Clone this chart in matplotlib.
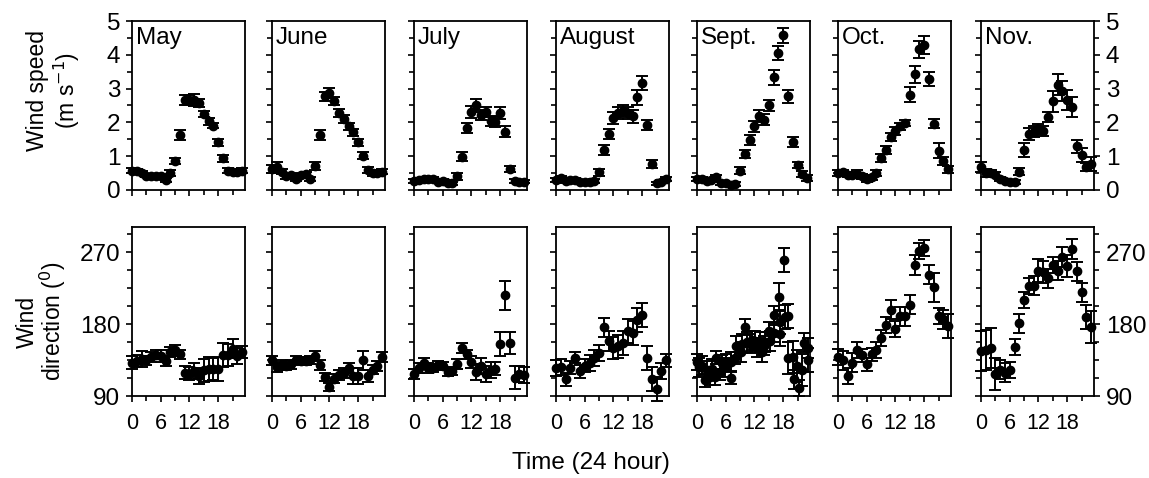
import numpy as np
import matplotlib.pyplot as plt
from matplotlib.ticker import MultipleLocator

plt.rcParams['font.family'] = ['Liberation Sans', 'DejaVu Sans']

months = ['May', 'June', 'July', 'August', 'Sept.', 'Oct.', 'Nov.']
hours = np.arange(24)

# hourly mean wind speed (m/s) and standard error
speed_may = [0.57, 0.55, 0.50, 0.42, 0.42, 0.42, 0.42, 0.30, 0.50, 0.86, 1.63, 2.67,
             2.67, 2.67, 2.57, 2.25, 2.03, 1.90, 1.41, 0.94, 0.57, 0.54, 0.54, 0.57]
speed_jun = [0.61, 0.67, 0.54, 0.40, 0.43, 0.33, 0.45, 0.46, 0.33, 0.72, 1.63, 2.77,
             2.87, 2.62, 2.28, 2.11, 1.88, 1.71, 1.41, 1.02, 0.59, 0.50, 0.50, 0.54]
speed_jul = [0.27, 0.30, 0.33, 0.33, 0.33, 0.25, 0.27, 0.20, 0.20, 0.40, 0.99, 1.83,
             2.31, 2.50, 2.23, 2.31, 2.03, 2.00, 2.28, 1.73, 0.62, 0.27, 0.25, 0.25]
speed_aug = [0.30, 0.35, 0.27, 0.30, 0.30, 0.23, 0.23, 0.23, 0.27, 0.52, 1.19, 1.65,
             2.13, 2.28, 2.33, 2.28, 2.18, 2.74, 3.17, 1.93, 0.77, 0.20, 0.25, 0.33]
speed_sep = [0.32, 0.32, 0.27, 0.30, 0.37, 0.20, 0.20, 0.15, 0.18, 0.57, 1.07, 1.49,
             1.88, 2.18, 2.08, 2.50, 3.34, 4.06, 4.58, 2.77, 1.41, 0.74, 0.47, 0.35]
speed_oct = [0.50, 0.52, 0.45, 0.45, 0.48, 0.40, 0.33, 0.37, 0.50, 0.94, 1.19, 1.58,
             1.75, 1.88, 1.98, 2.82, 3.42, 4.16, 4.29, 3.29, 1.96, 1.16, 0.87, 0.61]
speed_nov = [0.69, 0.50, 0.50, 0.45, 0.33, 0.27, 0.25, 0.25, 0.54, 1.19, 1.65, 1.73,
             1.80, 1.75, 2.15, 2.62, 3.12, 2.92, 2.67, 2.45, 1.29, 1.04, 0.69, 0.77]

speed_may_se = [0.08, 0.06, 0.06, 0.05, 0.05, 0.05, 0.05, 0.06, 0.08, 0.10, 0.15, 0.15,
                0.15, 0.18, 0.12, 0.10, 0.10, 0.08, 0.10, 0.10, 0.08, 0.08, 0.08, 0.08]
speed_jun_se = [0.12, 0.15, 0.08, 0.06, 0.05, 0.05, 0.06, 0.06, 0.06, 0.12, 0.14, 0.14,
                0.16, 0.12, 0.12, 0.12, 0.10, 0.10, 0.10, 0.10, 0.10, 0.08, 0.08, 0.08]
speed_jul_se = [0.06, 0.06, 0.06, 0.06, 0.06, 0.05, 0.05, 0.05, 0.05, 0.10, 0.12, 0.15,
                0.18, 0.18, 0.15, 0.15, 0.15, 0.15, 0.18, 0.15, 0.08, 0.05, 0.05, 0.05]
speed_aug_se = [0.06, 0.06, 0.05, 0.05, 0.05, 0.05, 0.05, 0.05, 0.05, 0.10, 0.14, 0.15,
                0.18, 0.18, 0.18, 0.18, 0.20, 0.22, 0.20, 0.15, 0.12, 0.05, 0.05, 0.05]
speed_sep_se = [0.06, 0.06, 0.05, 0.05, 0.06, 0.05, 0.05, 0.05, 0.05, 0.10, 0.12, 0.15,
                0.17, 0.18, 0.17, 0.17, 0.22, 0.20, 0.22, 0.20, 0.15, 0.10, 0.08, 0.08]
speed_oct_se = [0.08, 0.08, 0.08, 0.08, 0.12, 0.08, 0.08, 0.08, 0.08, 0.12, 0.12, 0.12,
                0.12, 0.10, 0.10, 0.22, 0.26, 0.26, 0.28, 0.20, 0.14, 0.22, 0.12, 0.10]
speed_nov_se = [0.15, 0.12, 0.10, 0.08, 0.06, 0.06, 0.06, 0.06, 0.10, 0.20, 0.18, 0.15,
                0.15, 0.15, 0.15, 0.30, 0.30, 0.30, 0.30, 0.30, 0.20, 0.20, 0.12, 0.20]

# hourly mean wind direction (degrees) and standard error
dir_may = [131.7, 133.8, 136.7, 134.6, 138.8, 141.7, 140.0, 133.8, 145.0, 147.0, 142.0, 119.0,
           118.0, 121.0, 115.0, 122.0, 124.0, 124.0, 124.0, 141.0, 141.7, 149.0, 140.0, 145.0]
dir_jun = [134.6, 126.0, 129.0, 128.0, 129.6, 134.6, 133.8, 133.8, 135.4, 140.0, 129.0, 113.8,
           101.3, 111.7, 116.0, 119.0, 125.0, 115.0, 115.0, 134.6, 115.0, 123.0, 127.5, 138.8]
dir_jul = [117.9, 125.4, 131.7, 125.0, 125.0, 129.0, 127.0, 120.0, 121.0, 130.4, 150.0, 142.0,
           132.5, 120.0, 128.0, 118.0, 123.0, 124.0, 155.0, 215.8, 156.0, 113.0, 117.0, 116.0]
dir_aug = [125.4, 126.0, 110.8, 125.4, 138.0, 121.0, 128.0, 131.0, 137.5, 143.8, 176.0, 158.8,
           150.0, 152.0, 156.0, 171.0, 168.8, 185.0, 191.0, 138.0, 110.8, 99.0, 121.0, 134.6]
dir_oct = [138.8, 134.6, 115.0, 131.7, 147.0, 140.8, 129.6, 142.0, 147.0, 162.5, 179.0, 198.0,
           174.0, 189.6, 189.6, 204.0, 254.0, 272.0, 275.0, 242.0, 226.0, 189.6, 186.0, 177.0]
dir_nov = [146.0, 148.0, 150.0, 117.0, 123.0, 119.0, 123.0, 151.0, 181.0, 209.6, 228.0, 228.0,
           247.0, 245.0, 237.5, 254.0, 247.0, 264.0, 252.5, 274.0, 246.0, 220.0, 189.0, 176.0]

dir_may_se = [8, 8, 10, 6, 6, 6, 8, 6, 6, 7, 6, 8, 8, 10, 10, 14, 15, 14, 15, 15, 14, 12, 10, 8]
dir_jun_se = [6, 6, 6, 6, 6, 5, 5, 5, 5, 6, 6, 5, 5, 6, 6, 6, 6, 10, 10, 12, 8, 6, 6, 6]
dir_jul_se = [6, 6, 6, 6, 5, 5, 5, 5, 5, 6, 6, 6, 8, 10, 10, 10, 10, 8, 15, 18, 14, 14, 10, 10]
dir_aug_se = [10, 10, 8, 8, 7, 8, 8, 10, 10, 10, 12, 12, 14, 14, 15, 15, 15, 15, 15, 15, 15, 15, 10, 8]
dir_oct_se = [10, 12, 10, 12, 10, 8, 8, 8, 10, 10, 10, 12, 10, 12, 12, 12, 12, 10, 10, 12, 18, 10, 12, 15]
dir_nov_se = [25, 25, 25, 20, 12, 12, 10, 10, 12, 10, 10, 12, 14, 14, 12, 10, 12, 12, 14, 12, 12, 12, 15, 20]

# September direction was logged at a finer time step
sep_dir_hours = [0.0, 0.4, 1.0, 1.7, 2.1, 2.8, 3.1, 3.8, 4.0, 4.9, 5.2, 5.9, 6.1, 7.0, 7.1, 8.0,
                 8.2, 9.1, 9.4, 10.1, 10.4, 11.1, 11.5, 12.2, 12.5, 13.2, 13.6, 13.9, 14.3, 15.0,
                 15.3, 16.0, 16.1, 17.1, 17.3, 17.4, 18.1, 18.4, 19.1, 19.1, 20.0, 20.2, 20.9,
                 21.2, 21.9, 22.3, 23.1, 23.1]
dir_sep = [132.5, 126.0, 128.0, 109.6, 122.0, 113.8, 124.0, 113.8, 138.0, 120.0, 131.7, 126.0,
           132.5, 132.5, 113.0, 137.5, 152.5, 145.0, 155.4, 176.0, 157.5, 155.4, 159.6, 158.8,
           151.0, 157.5, 145.0, 153.0, 157.5, 171.0, 158.8, 169.0, 191.0, 213.8, 182.5, 168.0,
           260.0, 188.8, 190.0, 138.0, 138.8, 110.8, 128.0, 100.0, 122.0, 156.7, 150.0, 134.6]
dir_sep_se = [10, 12, 12, 8, 12, 10, 12, 10, 8, 10, 10, 12, 10, 12, 8, 8, 12, 12, 12, 10,
              12, 12, 12, 12, 12, 12, 12, 12, 12, 12, 12, 12, 12, 18, 15, 15, 15, 15, 15, 20,
              20, 12, 20, 10, 20, 12, 12, 15]

speed = [speed_may, speed_jun, speed_jul, speed_aug, speed_sep, speed_oct, speed_nov]
speed_se = [speed_may_se, speed_jun_se, speed_jul_se, speed_aug_se, speed_sep_se,
            speed_oct_se, speed_nov_se]
direction = [(hours, dir_may, dir_may_se), (hours, dir_jun, dir_jun_se),
             (hours, dir_jul, dir_jul_se), (hours, dir_aug, dir_aug_se),
             (sep_dir_hours, dir_sep, dir_sep_se), (hours, dir_oct, dir_oct_se),
             (hours, dir_nov, dir_nov_se)]

fig = plt.figure(figsize=(11.49, 4.78), dpi=100)
W, H = 1149, 478
lefts = [132, 272, 414, 556, 697, 838, 981]
pw, ph = 113, 169
top_row, bot_row = 21, 227

ebkw = dict(fmt='o', color='black', ms=6, ecolor='black', elinewidth=1.4,
            capsize=4, capthick=1.4, clip_on=False)


def style(ax, col, ymin, ymax, major, minor, bottom_labels):
    ax.set_xlim(0, 23.6)
    ax.set_ylim(ymin, ymax)
    ax.xaxis.set_major_locator(MultipleLocator(6))
    ax.xaxis.set_minor_locator(MultipleLocator(3))
    ax.yaxis.set_major_locator(MultipleLocator(major))
    ax.yaxis.set_minor_locator(MultipleLocator(minor))
    for s in ax.spines.values():
        s.set_linewidth(1.3)
    last = col == 6
    ax.tick_params(which='both', direction='out', width=1.2, labelsize=17.5,
                   left=True, right=last, top=False,
                   labelleft=(col == 0), labelright=last,
                   labelbottom=bottom_labels)
    ax.tick_params(which='major', length=4.5)
    ax.tick_params(which='minor', length=3.5)
    ax.tick_params(axis='y', pad=4)
    ax.tick_params(axis='x', pad=8, labelsize=15.5)


for col in range(7):
    x0 = lefts[col] / W
    ax1 = fig.add_axes([x0, 1 - (top_row + ph) / H, pw / W, ph / H])
    ax1.errorbar(hours, speed[col], yerr=speed_se[col], **ebkw)
    style(ax1, col, 0, 5, 1, 0.5, False)
    ax1.text(0.035, 0.965, months[col], transform=ax1.transAxes, ha='left', va='top',
             fontsize=17.5)

    ax2 = fig.add_axes([x0, 1 - (bot_row + ph) / H, pw / W, ph / H])
    hx, hy, he = direction[col]
    ax2.errorbar(hx, hy, yerr=he, **ebkw)
    style(ax2, col, 90, 301.5, 90, 22.5, True)

    if col == 0:
        ax1.set_ylabel('Wind speed\n(m s$^{-1}$)', fontsize=16.5, linespacing=1.15)
        ax1.yaxis.set_label_coords(-0.44, 0.59)
        ax2.set_ylabel('Wind\ndirection ($^{0}$)', fontsize=16.5, linespacing=0.95)
        ax2.yaxis.set_label_coords(-0.565, 0.44)

fig.text(591 / W, 1 - 463 / H, 'Time (24 hour)', ha='center', va='center',
         fontsize=17.5)

fig.savefig('out.png', dpi=100)
